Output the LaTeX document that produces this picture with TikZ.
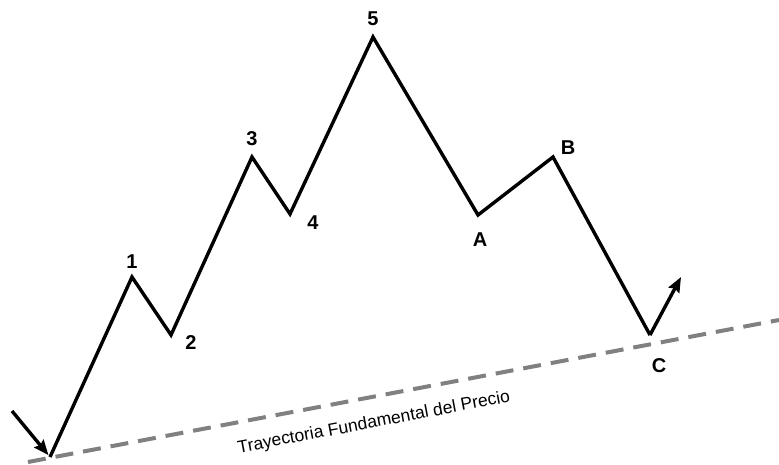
\documentclass[tikz,border=0pt]{standalone}
\usepackage{fontspec}
\setmainfont{Liberation Sans}
\usetikzlibrary{calc, arrows.meta}

\begin{document}
\begin{tikzpicture}[x=1pt, y=-1pt]
    % Define colours
    \definecolor{waveColour}{HTML}{000000}
    \definecolor{trendColour}{HTML}{808080}

    % Define styles
    \tikzset{
        wave/.style={draw=waveColour, line width=3.4pt, line join=miter},
        waveTip/.style={-{Stealth[length=15pt, width=12pt, inset=2pt]}},
        waveLabel/.style={font=\bfseries\fontsize{20}{20}\selectfont, inner sep=0pt},
        trend/.style={draw=trendColour, line width=4pt, dash pattern=on 18pt off 10pt}
    }

    % Fix the canvas
    \useasboundingbox (0,0) rectangle (779,465);

    % Define coordinates for the wave points
    \coordinate (S) at (12,411);
    \coordinate (P0) at (50,457);
    \coordinate (P1) at (132,277);
    \coordinate (P2) at (171,335);
    \coordinate (P3) at (252,157);
    \coordinate (P4) at (290,214);
    \coordinate (P5) at (373,37);
    \coordinate (PA) at (478,215);
    \coordinate (PB) at (553,157);
    \coordinate (PC) at (650,335);
    \coordinate (E) at (681,277);

    % Define coordinates for the trend line
    \coordinate (T0) at (28,462);
    \coordinate (T1) at (779,320);

    % Draw the trend line
    \draw[trend] (T0) -- (T1);
    \node[rotate=10.7, font=\fontsize{17.5}{17.5}\selectfont] (trendLabel) at (374,423) {Trayectoria Fundamental del Precio};

    % Draw the incoming arrow
    \draw[wave, waveTip] (S) -- ($(S)!0.96!(P0)$);

    % Draw the wave
    \draw[wave] (P0) -- (P1) -- (P2) -- (P3) -- (P4) -- (P5) -- (PA) -- (PB) -- (PC);

    % Draw the outgoing arrow
    \draw[wave, waveTip] (PC) -- (E);

    % Label the wave points
    \node[waveLabel] (l1) at (132,262) {1};
    \node[waveLabel] (l2) at (191,343) {2};
    \node[waveLabel] (l3) at (252,139) {3};
    \node[waveLabel] (l4) at (313,223) {4};
    \node[waveLabel] (l5) at (373,19) {5};
    \node[waveLabel] (lA) at (480,240) {A};
    \node[waveLabel] (lB) at (568,148) {B};
    \node[waveLabel] (lC) at (659,366) {C};

\end{tikzpicture}
\end{document}
